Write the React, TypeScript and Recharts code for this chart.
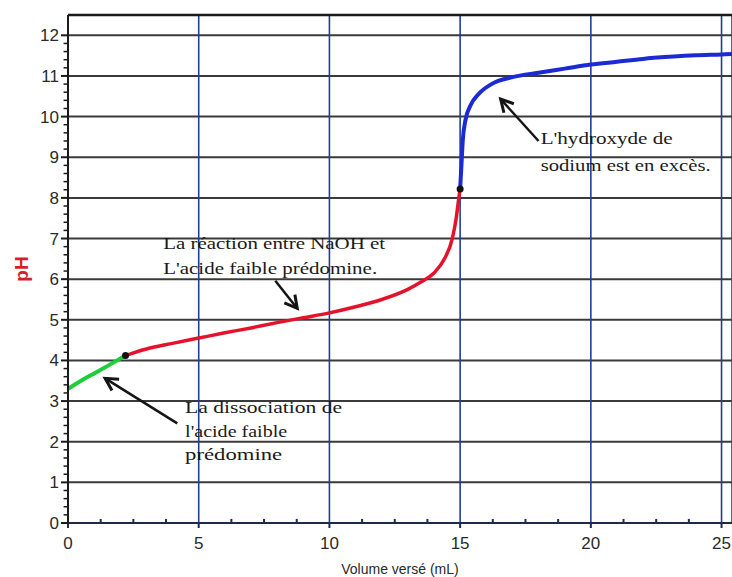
import { LineChart, Line, XAxis, YAxis, CartesianGrid, ReferenceLine, ReferenceDot } from 'recharts';

// Courbe de titrage : volume versé (mL) et pH
const acidVolume = [0, 0.5, 1, 1.5, 2.2];
const acidPH = [3.3, 3.5, 3.68, 3.86, 4.12];

const bufferVolume = [2.2, 3, 4, 5, 6, 7, 8, 9, 10, 11, 12, 13, 13.5, 14, 14.4, 14.7, 14.85, 14.95, 15];
const bufferPH = [4.12, 4.28, 4.42, 4.55, 4.68, 4.8, 4.93, 5.05, 5.17, 5.32, 5.5, 5.75, 5.93, 6.15, 6.5, 7.0, 7.5, 8.0, 8.22];

const excessVolume = [15, 15.05, 15.1, 15.2, 15.4, 15.7, 16.2, 17, 18, 19, 20, 21, 22, 23, 24, 25, 25.4];
const excessPH = [8.22, 8.8, 9.4, 9.9, 10.28, 10.55, 10.8, 10.97, 11.08, 11.18, 11.28, 11.35, 11.42, 11.47, 11.51, 11.53, 11.54];

const xTicks = [0, 5, 10, 15, 20, 25];
const yTicks = [0, 1, 2, 3, 4, 5, 6, 7, 8, 9, 10, 11, 12];
const xMinor = [1.25, 2.5, 3.75, 6.25, 7.5, 8.75, 11.25, 12.5, 13.75, 16.25, 17.5, 18.75, 21.25, 22.5, 23.75];
const yMinor = yTicks.slice(0, -1).flatMap((t) => [0.2, 0.4, 0.6, 0.8].map((d) => +(t + d).toFixed(1)));

const junctions = [
  { v: 2.2, pH: 4.12 },
  { v: 15, pH: 8.22 },
];

// annotations (coordonnées en mL / pH, largeur de chaque ligne en px)
const notes = [
  { v: 3.64, pH: 6.75, gap: 25, lines: ['La réaction entre NaOH et', "L'acide faible prédomine."], widths: [222, 214] },
  { v: 18.08, pH: 9.33, gap: 27, lines: ["L'hydroxyde de", 'sodium est en excès.'], widths: [132, 170] },
  { v: 4.48, pH: 2.7, gap: 23.5, lines: ['La dissociation de', "l'acide faible", 'prédomine'], widths: [157, 102, 97] },
];
const arrows = [
  { from: { x: 7.93, y: 5.96 }, to: { x: 8.77, y: 5.28 } },
  { from: { x: 18.0, y: 9.4 }, to: { x: 16.55, y: 10.43 } },
  { from: { x: 4.18, y: 2.45 }, to: { x: 1.42, y: 3.56 } },
];

const toPoints = (vol: number[], ph: number[]) => vol.map((v, i) => ({ v, pH: ph[i] }));

const ArrowShape = (p: any) => {
  const { x1, y1, x2, y2 } = p;
  const a = Math.atan2(y1 - y2, x1 - x2);
  const L = 14;
  const s = 0.5;
  const pts = `${x2 + L * Math.cos(a + s)},${y2 + L * Math.sin(a + s)} ${x2},${y2} ${x2 + L * Math.cos(a - s)},${y2 + L * Math.sin(a - s)}`;
  return (
    <g>
      <line x1={x1} y1={y1} x2={x2} y2={y2} stroke="#151515" strokeWidth={2.5} />
      <polyline points={pts} fill="none" stroke="#151515" strokeWidth={3} />
    </g>
  );
};

const noteShape = (n: (typeof notes)[number]) => (p: any) => (
  <g>
    {n.lines.map((l, i) => (
      <text
        key={i}
        x={p.cx}
        y={p.cy + i * n.gap}
        textLength={n.widths[i]}
        lengthAdjust="spacingAndGlyphs"
        fontFamily="'Liberation Serif', 'Times New Roman', serif"
        fontSize={17}
        fill="#1a1a1a"
      >
        {l}
      </text>
    ))}
  </g>
);

const tickStyle = { fill: '#2a2a2a', fontSize: 17, fontFamily: "'Liberation Sans', Arial, sans-serif" };

export default function App() {
  return (
    <div style={{ position: 'absolute', left: 0, top: 0, background: '#fff' }}>
      <LineChart width={732} height={577} margin={{ top: 15, right: 0, bottom: 0, left: 0 }}>
        <CartesianGrid vertical={false} stroke="#3a3a3a" strokeWidth={2} />
        <CartesianGrid horizontal={false} stroke="#1f3f95" strokeWidth={1.6} />
        <XAxis
          type="number"
          dataKey="v"
          domain={[0, 25.4]}
          ticks={xTicks}
          allowDataOverflow
          height={54}
          tickSize={5}
          tickMargin={9}
          tick={tickStyle}
          stroke="#1d2a4a"
          strokeWidth={2}
          label={{
            value: 'Volume versé (mL)',
            position: 'insideBottom',
            offset: 3,
            style: { fill: '#2a2a2a', fontSize: 14, fontFamily: "'Liberation Sans', Arial, sans-serif" },
          }}
        />
        <YAxis
          type="number"
          domain={[0, 12.5]}
          ticks={yTicks}
          allowDataOverflow
          width={68}
          tickSize={7}
          tick={tickStyle}
          stroke="#1a1a1a"
          strokeWidth={2}
          label={{
            value: 'pH',
            angle: -90,
            position: 'insideLeft',
            offset: 21,
            style: { fill: '#d41f2c', fontSize: 19, fontWeight: 'bold', textAnchor: 'middle', fontFamily: "'Liberation Sans', Arial, sans-serif" },
          }}
        />
        <ReferenceLine y={12.5} stroke="#1a1a1a" strokeWidth={2.5} ifOverflow="visible" />
        {xMinor.map((t) => (
          <ReferenceLine key={'xm' + t} segment={[{ x: t, y: 0 }, { x: t, y: 0.1 }]} stroke="#1d2a4a" strokeWidth={2} ifOverflow="visible" />
        ))}
        {yMinor.map((t) => (
          <ReferenceLine key={'ym' + t} segment={[{ x: 0, y: t }, { x: -0.17, y: t }]} stroke="#1a1a1a" strokeWidth={1.5} ifOverflow="visible" />
        ))}
        <Line data={toPoints(acidVolume, acidPH)} dataKey="pH" type="monotone" stroke="#1fcc3a" strokeWidth={4} dot={false} isAnimationActive={false} />
        <Line data={toPoints(bufferVolume, bufferPH)} dataKey="pH" type="monotone" stroke="#e4132c" strokeWidth={3.5} dot={false} isAnimationActive={false} />
        <Line data={toPoints(excessVolume, excessPH)} dataKey="pH" type="monotone" stroke="#1c2ad2" strokeWidth={4} dot={false} isAnimationActive={false} />
        {junctions.map((j) => (
          <ReferenceDot key={'j' + j.v} x={j.v} y={j.pH} r={3.5} fill="#111" stroke="none" />
        ))}
        {arrows.map((a, i) => (
          <ReferenceLine key={'a' + i} segment={[a.from, a.to]} shape={ArrowShape} ifOverflow="visible" />
        ))}
        {notes.map((n, i) => (
          <ReferenceDot key={'n' + i} x={n.v} y={n.pH} r={0} shape={noteShape(n)} ifOverflow="visible" />
        ))}
      </LineChart>
    </div>
  );
}
